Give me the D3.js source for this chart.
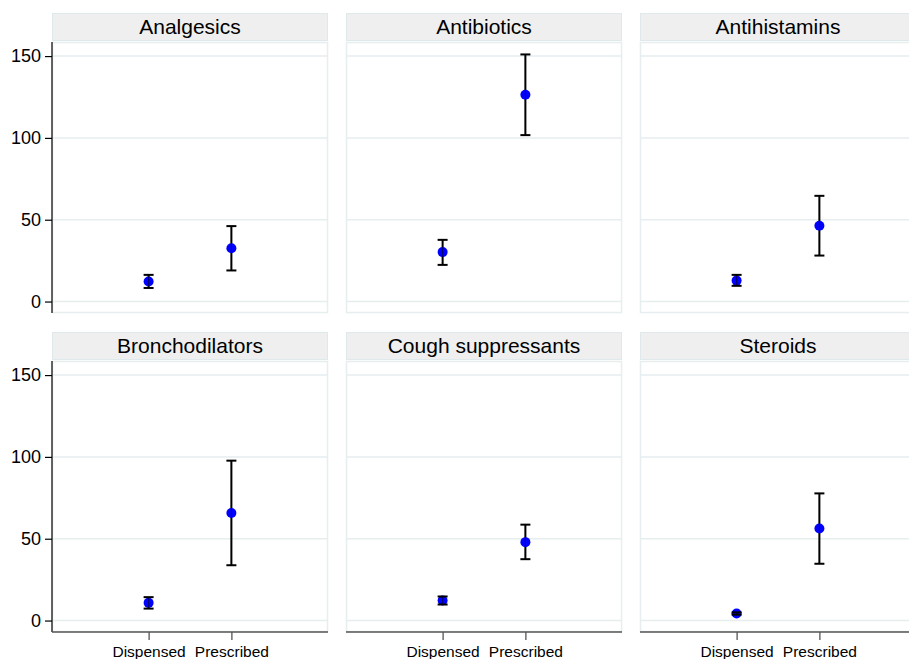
<!DOCTYPE html>
<html>
<head>
<meta charset="utf-8">
<script src="https://cdn.jsdelivr.net/npm/d3@7"></script>
<style>
  body { margin: 0; background: #fff; }
  text { font-family: "Liberation Sans", Arial, sans-serif; fill: #000; }
</style>
</head>
<body>
<svg id="chart" width="909" height="659"></svg>
<script>
// datos
const drugs = ["Analgesics", "Antibiotics", "Antihistamins", "Bronchodilators", "Cough suppressants", "Steroids"];
const groups = ["Dispensed", "Prescribed"];
const yTicks = [0, 50, 100, 150];

const dispensedMean = [12.2, 30.2, 12.8, 10.8, 12.2, 4.3];
const dispensedLow  = [8.3, 22.4, 9.6, 7.3, 9.8, 3.6];
const dispensedHigh = [16.3, 37.7, 16.3, 14.3, 14.7, 5.0];

const prescribedMean = [32.6, 126.4, 46.3, 65.7, 47.9, 56.3];
const prescribedLow  = [19.0, 101.7, 28.1, 33.8, 37.5, 34.7];
const prescribedHigh = [46.1, 151.0, 64.6, 97.7, 58.6, 77.7];

const svg = d3.select("#chart");

const panelW = 276, gapX = 18, left0 = 52;
const rows = [
  { headTop: 13, plotTop: 42, plotBottom: 313 },
  { headTop: 332, plotTop: 361, plotBottom: 632 }
];

const gridColor = "#e6eef0";

drugs.forEach(function (drug, i) {
  const row = Math.floor(i / 3), col = i % 3;
  const r = rows[row];
  const x0 = left0 + col * (panelW + gapX);

  const x = d3.scalePoint().domain(groups).range([x0, x0 + panelW]).padding(1.167);
  const y = d3.scaleLinear().domain([-7, 158.6]).range([r.plotBottom, r.plotTop]);

  const g = svg.append("g");

  // cabecera
  g.append("rect")
    .attr("x", x0 + 0.5).attr("y", r.headTop + 0.5)
    .attr("width", panelW - 1).attr("height", r.plotTop - r.headTop - 2)
    .attr("fill", "#efefef").attr("stroke", "#dfe8eb");
  g.append("text")
    .attr("x", x0 + panelW / 2).attr("y", r.headTop + 21)
    .attr("text-anchor", "middle").attr("font-size", 21)
    .text(drug);

  // marco del area
  g.append("rect")
    .attr("x", x0 + 0.5).attr("y", r.plotTop + 0.5)
    .attr("width", panelW - 1).attr("height", r.plotBottom - r.plotTop - 1)
    .attr("fill", "#fff").attr("stroke", gridColor).attr("stroke-width", 1.5);

  // lineas de grilla
  g.selectAll(".grid").data(yTicks).enter().append("line")
    .attr("x1", x0).attr("x2", x0 + panelW)
    .attr("y1", d => y(d)).attr("y2", d => y(d))
    .attr("stroke", gridColor).attr("stroke-width", 1.5);

  // eje y solo en la primera columna
  if (col === 0) {
    const ay = g.append("g")
      .attr("transform", "translate(" + x0 + ",0)")
      .call(d3.axisLeft(y).tickValues(yTicks).tickSize(7).tickPadding(4).tickFormat(d3.format("d")));
    ay.select(".domain").attr("d", "M0," + r.plotTop + "V" + r.plotBottom).attr("stroke", "#000").attr("stroke-width", 1.2);
    ay.selectAll(".tick line").attr("stroke", "#000").attr("stroke-width", 1.2);
    ay.selectAll(".tick text").attr("font-size", 18).attr("fill", "#000")
      .attr("font-family", "Liberation Sans, Arial, sans-serif");
  }

  // eje x solo en la fila de abajo
  if (row === 1) {
    const ax = g.append("g")
      .attr("transform", "translate(0," + r.plotBottom + ")")
      .call(d3.axisBottom(x).tickSize(8).tickPadding(6));
    ax.select(".domain").attr("d", "M" + x0 + ",0H" + (x0 + panelW)).attr("stroke", "#555").attr("stroke-width", 1.5);
    ax.selectAll(".tick line").attr("stroke", "#555").attr("stroke-width", 1.3);
    ax.selectAll(".tick text").attr("font-size", 15.5).attr("fill", "#000")
      .attr("font-family", "Liberation Sans, Arial, sans-serif");
  }

  const pts = [
    { grp: "Dispensed", mean: dispensedMean[i], lo: dispensedLow[i], hi: dispensedHigh[i] },
    { grp: "Prescribed", mean: prescribedMean[i], lo: prescribedLow[i], hi: prescribedHigh[i] }
  ];

  // barras de error (linea vertical)
  pts.forEach(function (p) {
    const cx = x(p.grp);
    g.append("line").attr("x1", cx).attr("x2", cx).attr("y1", y(p.lo)).attr("y2", y(p.hi))
      .attr("stroke", "#000").attr("stroke-width", 2);
  });

  g.selectAll(".pt").data(pts).enter().append("circle")
    .attr("cx", d => x(d.grp)).attr("cy", d => y(d.mean)).attr("r", 5)
    .attr("fill", "#0000ff");

  // linea fina y topes encima del punto, como se ve en el original
  pts.forEach(function (p) {
    const cx = x(p.grp);
    g.append("line").attr("x1", cx).attr("x2", cx).attr("y1", y(p.lo)).attr("y2", y(p.hi))
      .attr("stroke", "#000").attr("stroke-width", 1).attr("stroke-opacity", 0.6);
    [p.lo, p.hi].forEach(function (v) {
      g.append("line").attr("x1", cx - 5).attr("x2", cx + 5).attr("y1", y(v)).attr("y2", y(v))
        .attr("stroke", "#000").attr("stroke-width", 2);
    });
  });
});
</script>
</body>
</html>
